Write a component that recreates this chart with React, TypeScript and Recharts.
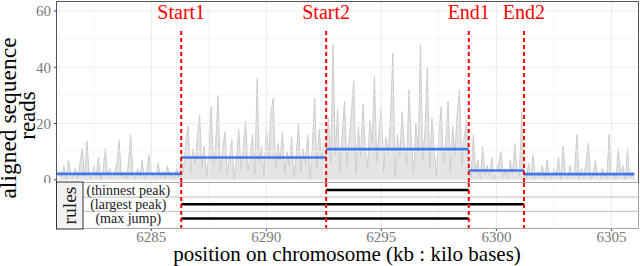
import React from 'react';
import { ComposedChart, Area, XAxis, YAxis, ReferenceLine, ReferenceDot } from 'recharts';

const FONT = 'Liberation Serif, DejaVu Serif, serif';

// read counts, one value per 0.1 kb starting at 6281.0 kb
const readsStart = 6281.0;
const readsStep = 0.1;
// 6281.0 – 6286.2
const readsBefore = [
    3, 1, 5, 0, 7, 2, 1, 4, 0, 6, 11, 1, 14, 2, 0, 5, 1, 8, 0, 3,
    11, 1, 4, 0, 2, 6, 14, 1, 3, 0, 5, 16, 2, 0, 4, 1, 7, 0, 3, 9,
    1, 2, 0, 6, 1, 3, 0, 5, 1, 2, 0, 4, 1,
];
// 6286.3 – 6292.5
const readsStart1 = [
    9, 3, 14, 19, 2, 11, 6, 15, 23, 4, 12, 1, 9, 26, 5, 13, 30, 3, 10, 17,
    2, 8, 14, 0, 7, 18, 4, 11, 21, 3, 9, 16, 2, 36, 6, 12, 1, 19, 8, 24,
    29, 4, 13, 7, 17, 2, 10, 5, 15, 1, 9, 20, 3, 11, 6, 16, 0, 12, 29, 4,
    18, 7, 13,
];
// 6292.6 – 6298.7
const readsStart2 = [
    12, 22, 6, 48, 9, 25, 3, 17, 28, 5, 14, 24, 35, 2, 19, 8, 27, 11, 4, 21,
    13, 37, 6, 18, 26, 3, 15, 9, 23, 45, 1, 16, 8, 24, 12, 5, 32, 14, 2, 20,
    10, 48, 7, 18, 40, 4, 22, 11, 1, 17, 26, 6, 13, 28, 3, 19, 9, 24, 32, 5,
    15, 21,
];
// 6298.8 – 6301.1
const readsEnd1 = [
    4, 1, 16, 3, 7, 0, 12, 2, 5, 1, 8, 0, 3, 6, 10, 1, 4, 0, 7, 2,
    13, 3, 1, 24,
];
// 6301.2 – 6306.0
const readsEnd2 = [
    2, 0, 6, 1, 9, 0, 3, 1, 5, 0, 7, 2, 0, 4, 1, 8, 0, 12, 2, 0,
    5, 1, 3, 16, 0, 4, 1, 6, 13, 0, 2, 7, 1, 0, 4, 2, 0, 16, 1, 3,
    0, 11, 2, 5, 0, 11, 1, 3, 0,
];

const breakLabels = ['Start1', 'Start2', 'End1', 'End2'];
const breakPositions = [6286.3, 6292.6, 6298.8, 6301.2];

const segmentEdges = [6280.9, 6286.3, 6292.6, 6298.8, 6301.2, 6306.0];
const segmentMeans = [2.1, 7.9, 10.9, 3.3, 2.0];

const ruleNames = ['(thinnest peak)', '(largest peak)', '(max jump)'];
const ruleRows = [3, 2, 1];
const ruleFrom = [6292.6, 6286.3, 6286.3];
const ruleTo = [6298.8, 6301.2, 6298.8];
const ruleLabelPos = 6284.0;

const xTicks = [6285, 6290, 6295, 6300, 6305];
const xMinorTicks = [6282.5, 6287.5, 6292.5, 6297.5, 6302.5];
const yTicks = [0, 20, 40, 60];
const yMinorTicks = [10, 30, 50];

const X_DOMAIN: [number, number] = [6280.9, 6306.2];

const readsValues = [...readsBefore, ...readsStart1, ...readsStart2, ...readsEnd1, ...readsEnd2];
const readsData = readsValues.map((v, i) => ({ pos: +(readsStart + i * readsStep).toFixed(1), reads: v }));
const ruleData = ruleNames.map((name, i) => ({ pos: ruleLabelPos, row: ruleRows[i], name }));

const tickStyle = { fill: '#7a7a7a', fontSize: 15, fontFamily: FONT };

function dashedBreaks(top: boolean) {
    return breakPositions.map((x, i) => top ? (
        <ReferenceLine
            key={`br-${i}`}
            segment={[{ x, y: -0.8 }, { x, y: 54 }]}
            stroke="#ff0000"
            strokeWidth={2}
            strokeDasharray="4 3"
            label={{ value: breakLabels[i], position: 'top', offset: 9, fill: '#ff0000', fontSize: 20, fontFamily: FONT }}
        />
    ) : (
        <ReferenceLine key={`br-${i}`} x={x} stroke="#ff0000" strokeWidth={2} strokeDasharray="4 3" />
    ));
}

function gridLinesX() {
    return [
        ...xMinorTicks.map(v => <ReferenceLine key={`xm-${v}`} x={v} stroke="#f3f3f3" strokeWidth={0.7} />),
        ...xTicks.map(v => <ReferenceLine key={`xM-${v}`} x={v} stroke="#ebebeb" strokeWidth={1} />),
    ];
}

export default function App() {
    return (
        <div style={{ position: 'relative', width: 640, height: 266, background: '#fff', fontFamily: FONT }}>
            <style>{'body{margin:0} svg text{font-family:"Liberation Serif","DejaVu Serif",serif}'}</style>

            <div style={{ position: 'absolute', left: 0, top: 0 }}>
                <ComposedChart width={640} height={183} data={readsData} margin={{ top: 2, right: 1, bottom: 1, left: 0 }}>
                    <XAxis type="number" dataKey="pos" domain={X_DOMAIN} allowDataOverflow hide />
                    <YAxis
                        type="number"
                        domain={[-0.8, 63.2]}
                        ticks={yTicks}
                        interval={0}
                        allowDataOverflow
                        width={57}
                        axisLine={false}
                        tickSize={3}
                        tickMargin={3}
                        tickLine={{ stroke: '#444' }}
                        tick={tickStyle}
                    />
                    {yMinorTicks.map(v => <ReferenceLine key={`ym-${v}`} y={v} stroke="#f3f3f3" strokeWidth={0.7} />)}
                    {yTicks.map(v => <ReferenceLine key={`yM-${v}`} y={v} stroke="#ebebeb" strokeWidth={1} />)}
                    {gridLinesX()}
                    <Area
                        type="linear"
                        dataKey="reads"
                        stroke="#cdcdcd"
                        strokeWidth={1}
                        fill="#d4d4d4"
                        fillOpacity={0.62}
                        dot={false}
                        activeDot={false}
                        isAnimationActive={false}
                    />
                    {segmentMeans.map((m, i) => (
                        <ReferenceLine
                            key={`seg-${i}`}
                            segment={[{ x: segmentEdges[i], y: m }, { x: segmentEdges[i + 1], y: m }]}
                            stroke="#4179e8"
                            strokeWidth={2.6}
                        />
                    ))}
                    {dashedBreaks(true)}
                </ComposedChart>
            </div>

            <div style={{ position: 'absolute', left: 0, top: 182 }}>
                <ComposedChart width={640} height={84} data={ruleData} margin={{ top: 0, right: 1, bottom: 0, left: 57 }}>
                    <XAxis
                        type="number"
                        dataKey="pos"
                        domain={X_DOMAIN}
                        allowDataOverflow
                        ticks={xTicks}
                        interval={0}
                        height={37}
                        axisLine={false}
                        tickSize={2}
                        tickMargin={0}
                        tickLine={{ stroke: '#444' }}
                        tick={tickStyle}
                    />
                    <YAxis type="number" dataKey="row" domain={[0.26, 3.56]} allowDataOverflow hide />
                    {gridLinesX()}
                    <ReferenceLine y={2.5} stroke="#bdbdbd" strokeWidth={1} />
                    <ReferenceLine y={1.5} stroke="#bdbdbd" strokeWidth={1} />
                    {ruleRows.map((r, i) => (
                        <ReferenceLine
                            key={`rule-${i}`}
                            segment={[{ x: ruleFrom[i], y: r }, { x: ruleTo[i], y: r }]}
                            stroke="#000"
                            strokeWidth={2.6}
                        />
                    ))}
                    {ruleData.map(d => (
                        <ReferenceDot
                            key={d.name}
                            x={d.pos}
                            y={d.row}
                            r={0}
                            fill="none"
                            stroke="none"
                            label={{ value: d.name, position: 'center', fill: '#1a1a1a', fontSize: 14, fontFamily: FONT }}
                        />
                    ))}
                    {dashedBreaks(false)}
                </ComposedChart>
            </div>

            <svg width={640} height={266} style={{ position: 'absolute', left: 0, top: 0, pointerEvents: 'none' }}>
                <rect x={56.5} y={182.5} width={582} height={46} fill="none" stroke="#a6a6a6" />
                <path d="M56.5,182.5 V1.5 H638.5 V182.5" fill="none" stroke="#555" />
                <rect x={56.5} y={182} width={26.5} height={47} fill="#f2f2f2" stroke="#333" />
                <text
                    transform="translate(76,205.5) rotate(-90)"
                    textAnchor="middle"
                    fontSize={19.5}
                    fontFamily={FONT}
                    fill="#1a1a1a"
                >rules</text>
                <text transform="translate(16,118) rotate(-90)" textAnchor="middle" fontSize={23.5} fontFamily={FONT} fill="#000">
                    aligned sequence
                </text>
                <text transform="translate(35,115.5) rotate(-90)" textAnchor="middle" fontSize={23} fontFamily={FONT} fill="#000">
                    reads
                </text>
                <text x={347} y={261} textAnchor="middle" fontSize={21} fontFamily={FONT} fill="#000">
                    position on chromosome (kb : kilo bases)
                </text>
            </svg>
        </div>
    );
}
